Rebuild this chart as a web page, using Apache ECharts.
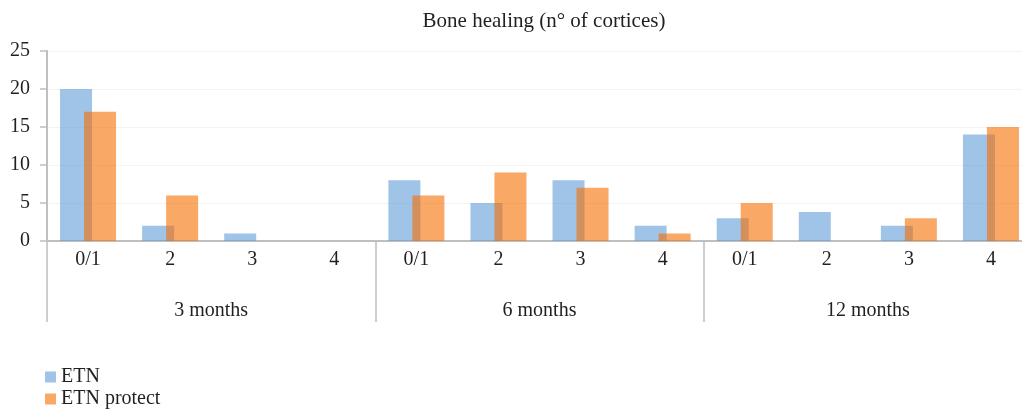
<!DOCTYPE html>
<html>
<head>
<meta charset="utf-8">
<script src="https://cdn.jsdelivr.net/npm/echarts@6/dist/echarts.min.js"></script>
<style>html,body{margin:0;padding:0;background:#fff;overflow:hidden;width:1022px;height:410px;}#c{width:1032px;height:410px;}</style>
</head>
<body>
<div id="c"></div>
<script>
var titleText = 'Bone healing (n\u00b0 of cortices)';
var subCategories = ['0/1','2','3','4','0/1','2','3','4','0/1','2','3','4'];
var groups = ['3 months','6 months','12 months'];
var etn = [20, 2, 1, 0, 8, 5, 8, 2, 3, 3.8, 2, 14];
var etnProtect = [17, 6, 0, 0, 6, 9, 7, 1, 5, 0, 3, 15];
var yTicks = [0, 5, 10, 15, 20, 25];

var FONT = '"Liberation Serif", "DejaVu Serif", serif';
var GRAY = '#bfbfbf';
var FS = 20;
var chart = echarts.init(document.getElementById('c'), null, {renderer:'canvas'});
chart.setOption({
  animation: false,
  title: {
    text: titleText, left: 539, top: 6, textAlign: 'center',
    textStyle: {fontFamily: FONT, fontSize: 21, fontWeight: 'normal', color: '#231f20'}
  },
  legend: {
    orient: 'vertical', left: 40, top: 362, height: 48, itemWidth: 11, itemHeight: 11, itemGap: 2,
    icon: 'rect',
    textStyle: {fontFamily: FONT, fontSize: FS, color: '#231f20'},
    data: ['ETN', 'ETN protect']
  },
  grid: {left: 47, right: 0, top: 51, bottom: 169, containLabel: false},
  xAxis: [{
    type: 'category', data: subCategories, position: 'bottom',
    axisLine: {show: true, lineStyle: {color: GRAY, width: 2}},
    axisTick: {show: false},
    axisLabel: {fontFamily: FONT, fontSize: FS, color: '#231f20', margin: 9, interval: 0}
  }, {
    type: 'category', data: groups, position: 'bottom',
    axisLine: {show: false},
    axisTick: {show: true, length: 81, lineStyle: {color: GRAY, width: 1.5}},
    axisLabel: {fontFamily: FONT, fontSize: FS, color: '#231f20', margin: 60, interval: 0}
  }],
  yAxis: {
    type: 'value', min: 0, max: 25, interval: 5,
    axisLine: {show: true, lineStyle: {color: GRAY, width: 2}},
    axisTick: {show: true, length: 7, lineStyle: {color: GRAY, width: 1.5}},
    axisLabel: {fontFamily: FONT, fontSize: FS, color: '#231f20', margin: 17,
      formatter: function (v) { return yTicks.indexOf(v) >= 0 ? String(v) : ''; }},
    splitLine: {show: true, lineStyle: {color: '#f3f3f3', width: 1}}
  },
  series: [{
    name: 'ETN', type: 'bar', data: etn, xAxisIndex: 0,
    barWidth: 32, barGap: '-25%',
    itemStyle: {color: 'rgba(97,155,217,0.6)'}
  }, {
    name: 'ETN protect', type: 'bar', data: etnProtect, xAxisIndex: 0,
    barWidth: 32, barGap: '-25%',
    itemStyle: {color: 'rgba(245,110,0,0.6)'}
  }]
});
</script>
</body>
</html>
